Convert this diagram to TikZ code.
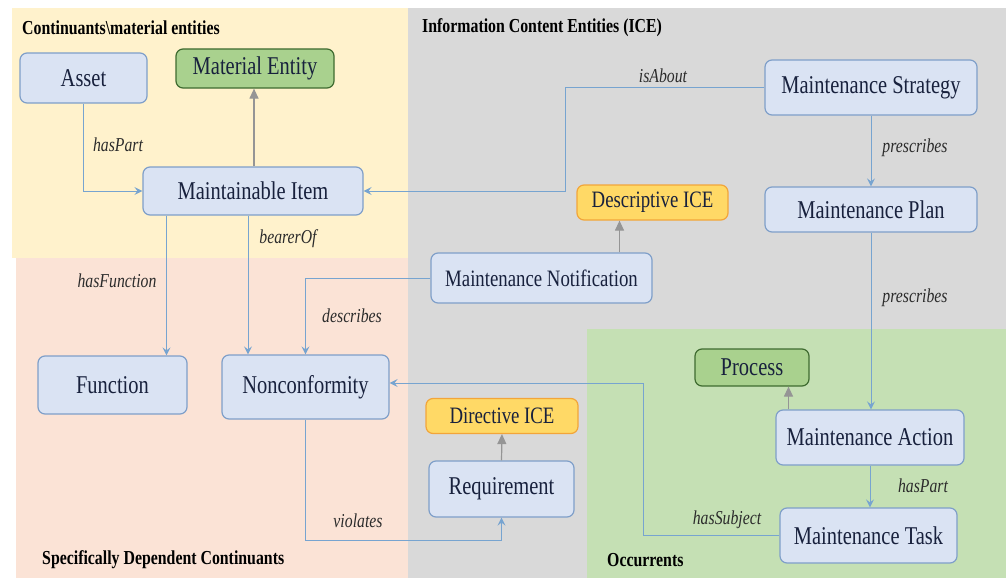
\documentclass[tikz,border=0pt]{standalone}
\usepackage{fontspec}
\setmainfont{Liberation Serif}
\newfontfamily\nf[FakeStretch=0.8]{Liberation Serif}
\usetikzlibrary{arrows.meta}
\definecolor{cyel}{HTML}{FFF2CC}
\definecolor{cpink}{HTML}{FBE3D6}
\definecolor{cgrey}{HTML}{D9D9D9}
\definecolor{cgreen}{HTML}{C5E0B4}
\definecolor{nfill}{HTML}{DAE3F3}
\definecolor{nborder}{HTML}{7F9FC9}
\definecolor{ntext}{HTML}{18213D}
\definecolor{gfill}{HTML}{A9D18E}
\definecolor{gborder}{HTML}{3F6B30}
\definecolor{ofill}{HTML}{FFD966}
\definecolor{oborder}{HTML}{F2A53A}
\definecolor{relc}{HTML}{77A4D0}
\definecolor{isac}{HTML}{959595}
\definecolor{lbl}{HTML}{2B2B2B}
\tikzset{
  ent/.style={draw=nborder, fill=nfill, rounded corners=7pt, line width=1.2pt,
    text=ntext, font=\nf\fontsize{25.6}{28}\selectfont, inner sep=0pt, align=center},
  entsmall/.style={ent, font=\nf\fontsize{23.5}{26}\selectfont},
  gent/.style={ent, draw=gborder, fill=gfill},
  oent/.style={ent, draw=oborder, fill=ofill, font=\nf\fontsize{23.5}{26}\selectfont},
  rel/.style={draw=relc, line width=1pt, -{Stealth[length=8pt,width=8pt,inset=3pt]}},
  isa/.style={draw=isac, line width=1.2pt, -{Triangle[length=10pt,width=9pt]}},
  lab/.style={text=lbl, font=\nf\itshape\fontsize{19.7}{22}\selectfont, inner sep=0pt},
  hdr/.style={text=black, font=\nf\bfseries\fontsize{19.8}{22}\selectfont, inner sep=0pt, anchor=west}
}
\begin{document}
\begin{tikzpicture}[x=1pt,y=-1pt]
\useasboundingbox (0,0) rectangle (1006,578);
\fill[white] (0,0) rectangle (1006,578);
% regions
\fill[cyel] (12,8) rectangle (408,258);
\fill[cgrey] (408,8) rectangle (1006,578);
\fill[cpink] (16,258) rectangle (408,578);
\fill[cgreen] (587,329) rectangle (1006,578);
\node[hdr] (h1) at (22,28) {Continuants\textbackslash material entities};
\node[hdr] (h2) at (422,28) {Information Content Entities (ICE)};
\node[hdr] (h3) at (42,560) {Specifically Dependent Continuants};
\node[hdr] (h4) at (607,560) {Occurrents};
% nodes
\node[ent, minimum width=127, minimum height=50] (asset) at (83.5,78) {Asset};
\node[gent, minimum width=158, minimum height=39] (mat) at (255,68.5) {Material Entity};
\node[ent, minimum width=220, minimum height=48] (mitem) at (253,191) {Maintainable Item};
\node[ent, minimum width=212, minimum height=55] (mstrat) at (871,87.5) {Maintenance Strategy};
\node[oent, minimum width=151, minimum height=35] (desc) at (652.5,202.5) {Descriptive ICE};
\node[ent, minimum width=212, minimum height=45] (mplan) at (871,209.5) {Maintenance Plan};
\node[entsmall, minimum width=221, minimum height=50] (mnot) at (541.5,278) {Maintenance Notification};
\node[ent, minimum width=149, minimum height=58] (func) at (112.5,385) {Function};
\node[ent, minimum width=167, minimum height=64] (nc) at (305.5,387) {Nonconformity};
\node[gent, minimum width=114, minimum height=37] (proc) at (752,367.5) {Process};
\node[oent, minimum width=152, minimum height=35] (dice) at (502,416) {Directive ICE};
\node[ent, minimum width=188, minimum height=55] (maction) at (870,437.5) {Maintenance Action};
\node[ent, minimum width=145, minimum height=56] (req) at (501.5,489) {Requirement};
\node[ent, minimum width=177, minimum height=55] (mtask) at (868.5,535.5) {Maintenance Task};
% helper coordinates
\coordinate (c1) at (565,87.5);
\coordinate (x1) at (619.5,0);
\coordinate (x2) at (166.5,0);
\coordinate (x3) at (248,0);
\coordinate (c3) at (643,383);
\coordinate (v1) at (0,540);
\coordinate (x6) at (788.5,0);
\coordinate (x7) at (254,0);
% connectors
\draw[rel] (asset.south) |- (mitem.west);
\draw[isa] (mitem.north -| x7) -- (mat.south -| x7);
\draw[rel] (mstrat.west) -- (c1) |- (mitem.east);
\draw[rel] (mstrat.south) -- (mplan.north);
\draw[rel] (mplan.south) -- (mplan.south |- maction.north);
\draw[isa] (mnot.north -| x1) -- (desc.south -| x1);
\draw[rel] (mitem.south -| x2) -- (func.north -| x2);
\draw[rel] (mitem.south -| x3) -- (nc.north -| x3);
\draw[rel] (mnot.west) -| (nc.north);
\draw[rel] (mtask.west) -| (c3) -- (nc.east |- c3);
\draw[rel] (nc.south) |- (req.south |- v1) -- (req.south);
\draw[isa] (req.north) -- (dice.south);
\draw[isa] (maction.north -| x6) -- (proc.south -| x6);
\draw[rel] (maction.south) -- (maction.south |- mtask.north);
% labels
\node[lab] (l1) at (118,145) {hasPart};
\node[lab] (l2) at (288,239) {bearerOf};
\node[lab] (l3) at (117,281) {hasFunction};
\node[lab] (l4) at (352,316) {describes};
\node[lab] (l5) at (358,521) {violates};
\node[lab] (l6) at (663,76) {isAbout};
\node[lab] (l7) at (915,148) {prescribes};
\node[lab] (l8) at (915,298) {prescribes};
\node[lab] (l9) at (923,486) {hasPart};
\node[lab] (l10) at (727,520) {hasSubject};
\end{tikzpicture}
\end{document}
